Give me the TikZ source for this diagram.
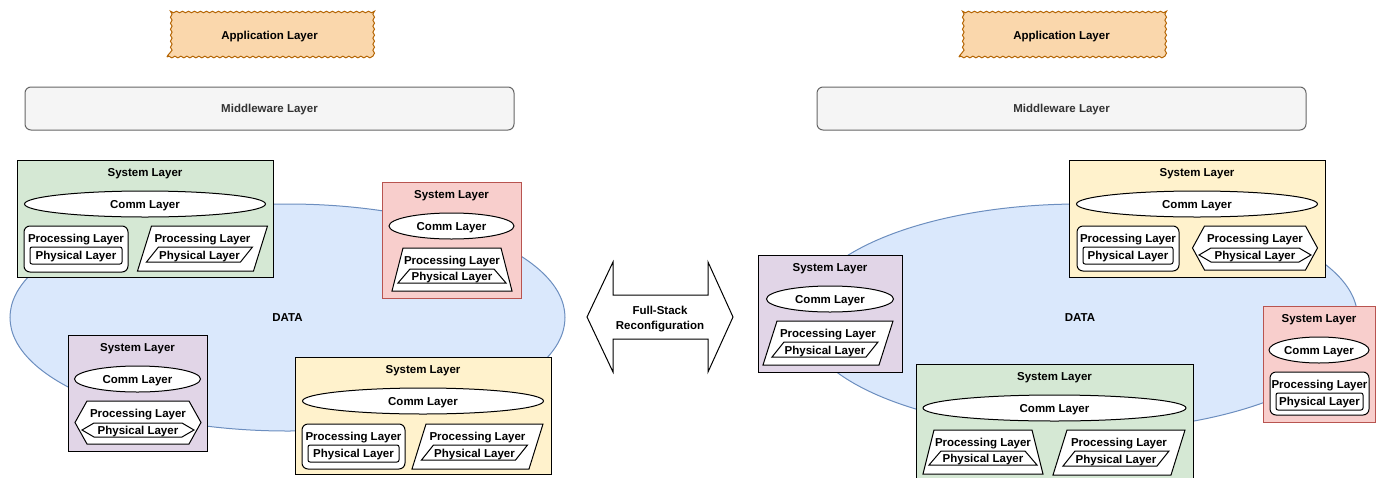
\documentclass[tikz,border=0pt]{standalone}
\usepackage{fontspec}
\setmainfont{Liberation Sans}
\usetikzlibrary{shapes.geometric}
\usetikzlibrary{decorations.pathmorphing}

\definecolor{appfill}{HTML}{FAD7AC}
\definecolor{appline}{HTML}{B46504}
\definecolor{midfill}{HTML}{F5F5F5}
\definecolor{midline}{HTML}{666666}
\definecolor{midtext}{HTML}{333333}
\definecolor{datafill}{HTML}{DAE8FC}
\definecolor{dataline}{HTML}{6C8EBF}
\definecolor{sysgreen}{HTML}{D5E8D4}
\definecolor{sysred}{HTML}{F8CECC}
\definecolor{redline}{HTML}{B85450}
\definecolor{syspurple}{HTML}{E1D5E7}
\definecolor{sysyellow}{HTML}{FFF2CC}

\tikzset{
	procshape/.style={draw=black, fill=white},
	commoval/.style={ellipse, draw=black, fill=white, inner sep=0pt},
	pics/system/.style n args={7}{
		code = {
			\draw[fill=#5, draw=#6] (#1, #2) rectangle (#3, #4);
			\node (-title) at ({(#1+#3)/2}, #2+12.5) {System Layer};
			\node[commoval, minimum width=#7, minimum height=26] (-comm) at ({(#1+#3)/2}, #2+44) {Comm Layer};
		}
	},
	pics/rectproc/.style n args={4}{
		code = {
			\draw[procshape, rounded corners=6] (#1-#3/2, #2) rectangle (#1+#3/2, #2+#4);
			\draw[procshape, rounded corners=2] (#1-#3/2+6, #2+21) rectangle (#1+#3/2-6, #2+38);
			\node (-proc) at (#1, #2+12.5) {Processing Layer};
			\node (-phys) at (#1, #2+29.5) {Physical Layer};
		}
	},
	pics/paraproc/.style n args={4}{
		code = {
			\draw[procshape] (#1-#3/2+14, #2) -- (#1+#3/2, #2) -- (#1+#3/2-14, #2+#4) -- (#1-#3/2, #2+#4) -- cycle;
			\draw[procshape] (#1-44, #2+21) -- (#1+50, #2+21) -- (#1+38, #2+36) -- (#1-56, #2+36) -- cycle;
			\node (-proc) at (#1, #2+12.5) {Processing Layer};
			\node (-phys) at (#1-3, #2+29) {Physical Layer};
		}
	},
	pics/trapproc/.style n args={4}{
		code = {
			\draw[procshape] (#1-#3/2+11, #2) -- (#1+#3/2-11, #2) -- (#1+#3/2, #2+#4) -- (#1-#3/2, #2+#4) -- cycle;
			\draw[procshape] (#1-42, #2+21) -- (#1+42, #2+21) -- (#1+54, #2+35) -- (#1-54, #2+35) -- cycle;
			\node (-proc) at (#1, #2+12.5) {Processing Layer};
			\node (-phys) at (#1, #2+28.5) {Physical Layer};
		}
	},
	pics/hexproc/.style n args={4}{
		code = {
			\draw[procshape] (#1-#3/2, #2+#4/2) -- (#1-#3/2+12, #2) -- (#1+#3/2-12, #2) -- (#1+#3/2, #2+#4/2) -- (#1+#3/2-12, #2+#4) -- (#1-#3/2+12, #2+#4) -- cycle;
			\draw[procshape] (#1-56, #2+29) -- (#1-44, #2+22) -- (#1+44, #2+22) -- (#1+56, #2+29) -- (#1+44, #2+36) -- (#1-44, #2+36) -- cycle;
			\node (-proc) at (#1, #2+12.5) {Processing Layer};
			\node (-phys) at (#1, #2+29) {Physical Layer};
		}
	}
}

\begin{document}
\begin{tikzpicture}[x=1pt, y=-1pt, line width=1pt, font=\bfseries\fontsize{11.5}{15}\selectfont,
	every node/.style={text depth=0pt},
	appbox/.style={draw=appline, fill=appfill, minimum width=205, minimum height=43, decorate, decoration={snake, segment length=6pt, amplitude=0.8pt}},
	midbox/.style={draw=midline, fill=midfill, text=midtext, rounded corners=6, minimum width=489, minimum height=43},
	dataoval/.style={ellipse, draw=dataline, fill=datafill, minimum width=555, minimum height=227, inner sep=0pt}]

	\useasboundingbox (0, 0) rectangle (1381, 477);
	\clip (0, 0) rectangle (1381, 477);

	% --- before ---
	\node[appbox] (appL) at (269.5, 35.5) {Application Layer};
	\node[midbox] (midL) at (269.5, 108.5) {Middleware Layer};
	\node[dataoval] (dataL) at (287.5, 317.5) {DATA};

	\pic (sgL) {system={17}		{160}	{273}	{277}	{sysgreen}	{black}		{241}};
	\pic (gL1) {rectproc={76}	{226}	{104}	{46}};
	\pic (gL2) {paraproc={202.5}	{226}	{130}	{45}};

	\pic (srL) {system={382}	{182}	{521}	{298}	{sysred}	{redline}	{125}};
	\pic (rL) {trapproc={452}	{248}	{120}	{43}};

	\pic (spL) {system={68}		{335}	{207}	{451}	{syspurple}	{black}		{126}};
	\pic (pL) {hexproc={138}	{401}	{126}	{43}};

	\pic (syL) {system={295}	{357}	{551}	{474}	{sysyellow}	{black}		{241}};
	\pic (yL1) {rectproc={353.5}	{424}	{103}	{45}};
	\pic (yL2) {paraproc={477.5}	{424}	{131}	{45}};

	% reconfiguration arrow
	\draw[fill=white] (587, 317) -- (613, 262) -- (613, 295) -- (708, 295) -- (708, 262) -- (733, 317)
		-- (708, 372) -- (708, 339) -- (613, 339) -- (613, 372) -- cycle;
	\node[align=center] (reconf) at (660, 318) {Full-Stack\\Reconfiguration};

	% --- after ---
	\node[appbox] (appR) at (1061.5, 35.5) {Application Layer};
	\node[midbox] (midR) at (1061.5, 108.5) {Middleware Layer};
	\node[dataoval] (dataR) at (1080, 317.5) {DATA};

	\pic (spR) {system={758}	{255}	{902}	{372}	{syspurple}	{black}		{127}};
	\pic (pR) {paraproc={828}	{321}	{130}	{44}};

	\pic (syR) {system={1069}	{160}	{1325}	{277}	{sysyellow}	{black}		{241}};
	\pic (yR1) {rectproc={1128}	{226}	{102}	{45}};
	\pic (yR2) {hexproc={1255}	{226}	{125}	{44}};

	\pic (srR) {system={1263}	{306}	{1375}	{422}	{sysred}	{redline}	{100}};
	\pic (rR) {rectproc={1319.5}	{372}	{99}	{43}};

	\pic (sgR) {system={916}	{364}	{1193}	{495}	{sysgreen}	{black}		{263}};
	\pic (gR1) {trapproc={983}	{430}	{120}	{44}};
	\pic (gR2) {paraproc={1119}	{430}	{132}	{45}};

\end{tikzpicture}
\end{document}
